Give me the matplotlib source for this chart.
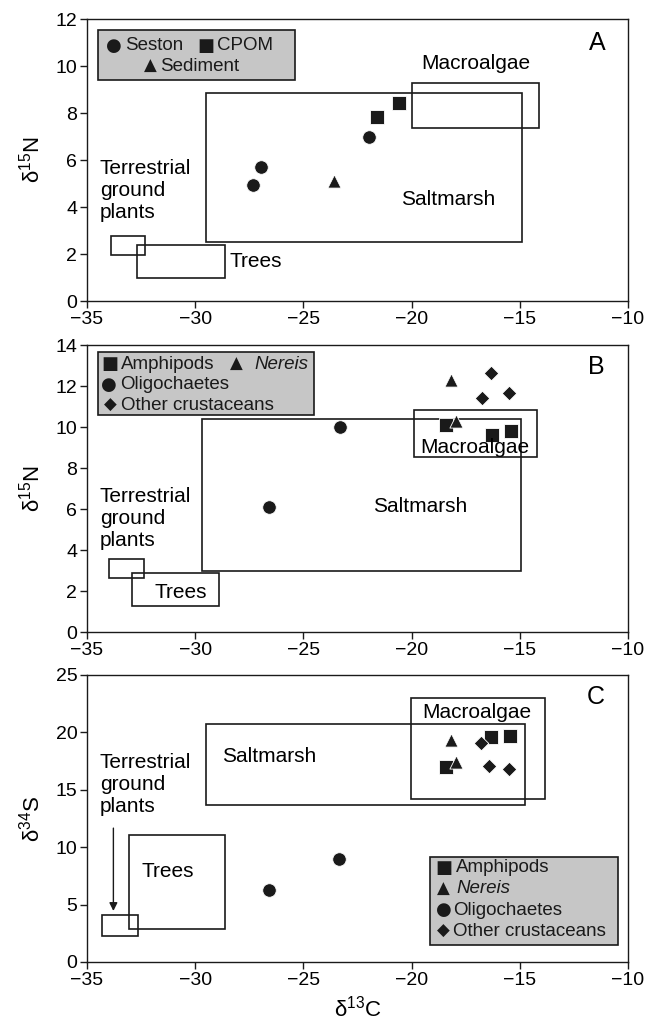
import matplotlib
matplotlib.use('Agg')
import matplotlib.pyplot as plt
from matplotlib.patches import Rectangle

plt.rcParams['font.family'] = ['Liberation Sans', 'DejaVu Sans']

# ---- panel A: sources (d13C, d15N)
seston_x = [-27.35, -26.95, -21.95]
seston_y = [4.92, 5.70, 6.98]
cpom_x = [-21.6, -20.6]
cpom_y = [7.82, 8.42]
sediment_x = [-23.6]
sediment_y = [5.1]

# ---- panel B: consumers (d13C, d15N)
b_amph_x = [-18.4, -16.3, -15.4]
b_amph_y = [10.1, 9.6, 9.8]
b_nereis_x = [-18.2, -17.95]
b_nereis_y = [12.3, 10.3]
b_olig_x = [-26.6, -23.3]
b_olig_y = [6.1, 10.0]
b_other_x = [-16.35, -16.75, -15.5]
b_other_y = [12.65, 11.4, 11.65]

# ---- panel C: consumers (d13C, d34S)
c_amph_x = [-18.4, -16.35, -15.45]
c_amph_y = [16.95, 19.6, 19.7]
c_nereis_x = [-18.2, -17.95]
c_nereis_y = [19.3, 17.4]
c_olig_x = [-26.6, -23.35]
c_olig_y = [6.25, 9.0]
c_other_x = [-16.8, -16.4, -15.5]
c_other_y = [19.1, 17.1, 16.85]

# source ranges: (x0, x1, y0, y1)
a_boxes = {'Saltmarsh': (-29.5, -14.9, 2.5, 8.85),
           'Macroalgae': (-20.0, -14.1, 7.35, 9.28),
           'Terrestrial': (-33.9, -32.3, 1.97, 2.78),
           'Trees': (-32.7, -28.6, 0.96, 2.4)}
b_boxes = {'Saltmarsh': (-29.7, -14.95, 3.0, 10.4),
           'Macroalgae': (-19.9, -14.2, 8.55, 10.85),
           'Terrestrial': (-34.0, -32.35, 2.63, 3.57),
           'Trees': (-32.9, -28.9, 1.25, 2.87)}
c_boxes = {'Saltmarsh': (-29.5, -14.75, 13.65, 20.7),
           'Macroalgae': (-20.05, -13.85, 14.2, 23.0),
           'Terrestrial': (-34.3, -32.65, 2.3, 4.1),
           'Trees': (-33.05, -28.6, 2.87, 11.05)}

ink = '#1a1a1a'
fs = 15      # annotation labels
lfs = 13.5   # legend text

fig = plt.figure(figsize=(6.56, 10.25), dpi=100)
axA = fig.add_axes([0.1326, 0.7063, 0.8247, 0.2751])
axB = fig.add_axes([0.1326, 0.3834, 0.8247, 0.2800])
axC = fig.add_axes([0.1326, 0.0615, 0.8247, 0.2800])


def setup(ax, ymax, ystep, ylabel):
    ax.set_xlim(-35, -10)
    ax.set_ylim(0, ymax)
    ax.set_xticks(range(-35, -9, 5))
    ax.set_yticks(range(0, ymax + 1, ystep))
    ax.tick_params(direction='out', length=5, width=1, labelsize=14, color=ink,
                   pad=2)
    for s in ax.spines.values():
        s.set_linewidth(1.0)
        s.set_color(ink)
    ax.set_ylabel(ylabel, fontsize=16, labelpad=8)


def draw_boxes(ax, boxes):
    for x0, x1, y0, y1 in boxes.values():
        ax.add_patch(Rectangle((x0, y0), x1 - x0, y1 - y0, fill=False,
                               edgecolor=ink, linewidth=1.2, zorder=2))


def legend_box(ax, x0, x1, y0, y1):
    ax.add_patch(Rectangle((x0, y0), x1 - x0, y1 - y0, facecolor='#c6c6c6',
                           edgecolor=ink, linewidth=1.2, zorder=3))


def sym(ax, x, y, s, size=13):
    ax.text(x, y, s, fontsize=size, ha='center', va='center', color=ink,
            family=['DejaVu Sans'], zorder=4)


def lab(ax, x, y, s, **kw):
    ax.text(x, y, s, fontsize=lfs, va='center', color=ink, zorder=4, **kw)


mk = dict(color=ink, zorder=5, edgecolor='white', linewidths=0.6)
tl = dict(fontsize=fs, linespacing=1.2)

# ---------------- Panel A
setup(axA, 12, 2, 'δ$^{\\mathregular{15}}$N')
draw_boxes(axA, a_boxes)
axA.scatter(seston_x, seston_y, marker='o', s=95, **mk)
axA.scatter(cpom_x, cpom_y, marker='s', s=100, **mk)
axA.scatter(sediment_x, sediment_y, marker='^', s=90, **mk)
axA.text(-17.05, 10.1, 'Macroalgae', ha='center', va='center', **tl)
axA.text(-18.3, 4.33, 'Saltmarsh', ha='center', va='center', **tl)
axA.text(-34.4, 4.7, 'Terrestrial\nground\nplants', ha='left', va='center', **tl)
axA.text(-28.4, 1.69, 'Trees', ha='left', va='center', **tl)
axA.text(-11.4, 11.0, 'A', fontsize=18, ha='center', va='center')
legend_box(axA, -34.5, -25.4, 9.39, 11.53)
sym(axA, -33.74, 10.86, '●')
lab(axA, -33.25, 10.86, 'Seston')
sym(axA, -29.5, 10.86, '■')
lab(axA, -28.97, 10.86, 'CPOM')
sym(axA, -32.08, 9.99, '▲', 12)
lab(axA, -31.6, 9.99, 'Sediment')

# ---------------- Panel B
setup(axB, 14, 2, 'δ$^{\\mathregular{15}}$N')
draw_boxes(axB, b_boxes)
axB.scatter(b_olig_x, b_olig_y, marker='o', s=95, **mk)
axB.scatter(b_amph_x, b_amph_y, marker='s', s=100, **mk)
axB.scatter(b_other_x, b_other_y, marker='D', s=55, **mk)
axB.scatter(b_nereis_x, b_nereis_y, marker='^', s=90, **mk)
axB.text(-17.1, 9.0, 'Macroalgae', ha='center', va='center', zorder=6, **tl)
axB.text(-19.6, 6.12, 'Saltmarsh', ha='center', va='center', **tl)
axB.text(-34.4, 5.55, 'Terrestrial\nground\nplants', ha='left', va='center', **tl)
axB.text(-30.65, 1.95, 'Trees', ha='center', va='center', **tl)
axB.text(-11.45, 12.95, 'B', fontsize=18, ha='center', va='center')
legend_box(axB, -34.5, -24.5, 10.59, 13.68)
sym(axB, -33.93, 13.06, '■')
lab(axB, -33.45, 13.06, 'Amphipods')
sym(axB, -28.09, 13.06, '▲', 12)
lab(axB, -27.24, 13.06, 'Nereis', style='italic')
sym(axB, -33.97, 12.05, '●')
lab(axB, -33.45, 12.05, 'Oligochaetes')
sym(axB, -33.93, 11.06, '◆', 12)
lab(axB, -33.45, 11.06, 'Other crustaceans')

# ---------------- Panel C
setup(axC, 25, 5, 'δ$^{\\mathregular{34}}$S')
draw_boxes(axC, c_boxes)
axC.scatter(c_olig_x, c_olig_y, marker='o', s=95, **mk)
axC.scatter(c_amph_x, c_amph_y, marker='s', s=100, **mk)
axC.scatter(c_other_x, c_other_y, marker='D', s=55, **mk)
axC.scatter(c_nereis_x, c_nereis_y, marker='^', s=90, **mk)
axC.text(-16.98, 21.76, 'Macroalgae', ha='center', va='center', **tl)
axC.text(-26.6, 17.9, 'Saltmarsh', ha='center', va='center', **tl)
axC.text(-34.4, 15.45, 'Terrestrial\nground\nplants', ha='left', va='center', **tl)
axC.annotate('', xy=(-33.78, 4.2), xytext=(-33.78, 11.9),
             arrowprops=dict(arrowstyle='-|>', color=ink, lw=1.0,
                             mutation_scale=12))
axC.text(-31.25, 7.85, 'Trees', ha='center', va='center', **tl)
axC.text(-11.5, 23.1, 'C', fontsize=18, ha='center', va='center')
legend_box(axC, -19.15, -10.47, 1.48, 9.15)
sym(axC, -18.53, 8.2, '■')
lab(axC, -17.93, 8.2, 'Amphipods')
sym(axC, -18.53, 6.37, '▲', 12)
lab(axC, -17.93, 6.37, 'Nereis', style='italic')
sym(axC, -18.53, 4.52, '●')
lab(axC, -18.1, 4.52, 'Oligochaetes')
sym(axC, -18.53, 2.69, '◆', 12)
lab(axC, -18.1, 2.69, 'Other crustaceans')
axC.set_xlabel('δ$^{\\mathregular{13}}$C', fontsize=16, labelpad=5)

fig.savefig('out.png', dpi=100)
